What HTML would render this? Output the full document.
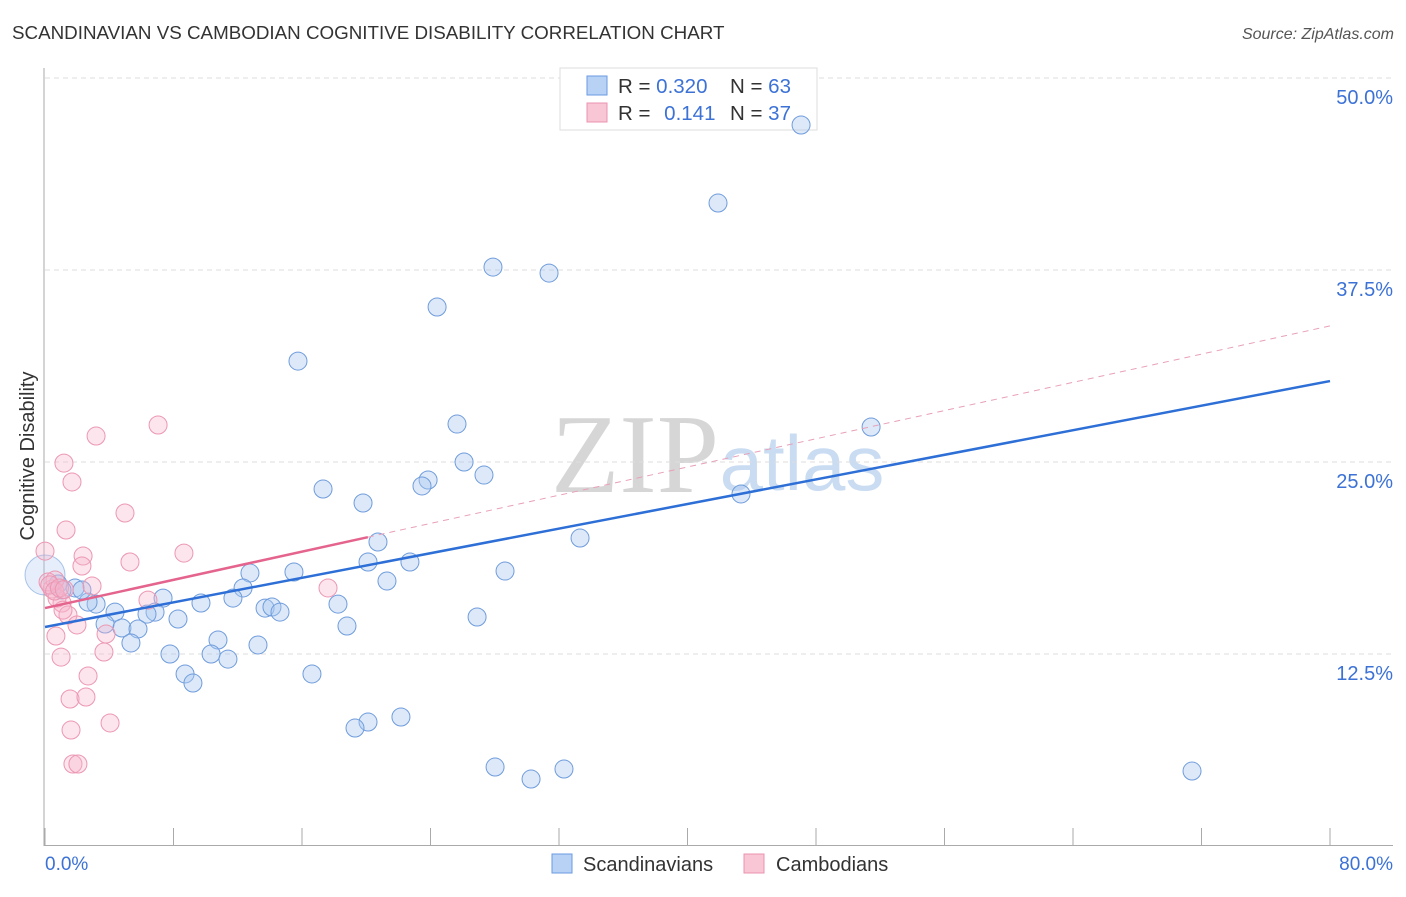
<!DOCTYPE html>
<html><head><meta charset="utf-8"><style>
body{margin:0;background:#fff;font-family:"Liberation Sans",sans-serif;}
svg text{font-family:"Liberation Sans",sans-serif;}
</style></head><body>
<svg id="chart" width="1406" height="892" xmlns="http://www.w3.org/2000/svg">
<text x="12" y="39" font-size="18.8" fill="#333">SCANDINAVIAN VS CAMBODIAN COGNITIVE DISABILITY CORRELATION CHART</text>
<text x="1394" y="39" font-size="16" fill="#555" font-style="italic" text-anchor="end">Source: ZipAtlas.com</text>
<text transform="translate(34,456) rotate(-90)" font-size="20" fill="#333" text-anchor="middle">Cognitive Disability</text>
<g>
<text x="635" y="492" font-size="112" fill="#d6d6d6" font-family="Liberation Serif" text-anchor="middle" style="font-family:'Liberation Serif',serif">ZIP</text>
<text x="802" y="490" font-size="78" fill="#c9dcf2" text-anchor="middle">atlas</text>
</g>
<g id="grid"></g>
<g id="axes"></g>
<g>
<rect x="560" y="68" width="257" height="62" fill="#fff" stroke="#ddd"/>
<rect x="587" y="76" width="20" height="19" fill="#b8d2f6" stroke="#6a9ae0"/>
<rect x="587" y="103" width="20" height="19" fill="#f9c6d5" stroke="#ec93b0"/>
<text x="618" y="93" font-size="20.5" fill="#333">R = <tspan fill="#3c72d6">0.320</tspan></text>
<text x="730" y="93" font-size="20.5" fill="#333">N = <tspan fill="#3c72d6">63</tspan></text>
<text x="618" y="120" font-size="20.5" fill="#333">R = <tspan fill="#3c72d6" dx="8">0.141</tspan></text>
<text x="730" y="120" font-size="20.5" fill="#333">N = <tspan fill="#3c72d6">37</tspan></text>
</g>
<g id="marks"></g>
<g>
<rect x="552" y="854" width="20" height="19" fill="#b8d2f6" stroke="#6a9ae0"/>
<text x="583" y="871" font-size="20" fill="#333">Scandinavians</text>
<rect x="744" y="854" width="20" height="19" fill="#f9c6d5" stroke="#ec93b0"/>
<text x="776" y="871" font-size="20" fill="#333">Cambodians</text>
</g>
</svg>
<script>
const yTicks=[12.5,25,37.5,50];
const yTickLabels=["12.5%","25.0%","37.5%","50.0%"];
const xTickCount=10;
const xLabels=["0.0%","80.0%"];
const blueX=[47.07,41.90,27.89,31.38,24.41,15.75,51.43,25.65,26.09,27.33,23.85,23.47,17.31,19.80,43.33,20.73,33.31,20.11,22.72,12.76,28.64,15.50,21.29,12.33,11.70,7.35,9.71,18.24,13.70,14.13,14.63,6.85,6.35,4.36,3.18,2.68,8.28,26.90,3.74,4.79,5.79,18.80,10.77,5.35,13.26,7.78,10.34,11.39,8.72,9.21,16.62,20.11,19.30,22.16,28.02,30.26,32.31,71.41,1.87,2.30,0.81,1.06,0];
const blueY=[46.94,41.86,37.69,37.30,35.09,31.57,27.28,27.47,25.0,24.15,23.83,23.44,23.24,22.33,22.92,19.79,20.05,18.49,18.49,17.77,17.90,17.84,17.25,16.80,16.14,16.14,15.82,15.75,15.49,15.56,15.23,15.23,15.10,15.23,15.75,15.88,14.78,14.91,14.45,14.19,14.13,14.32,13.41,13.22,13.09,12.50,12.50,12.17,11.20,10.61,11.20,8.07,7.68,8.40,5.14,4.36,5.01,4.88,16.80,16.67,17.06,16.67,17.64];
const pinkX=[7.04,3.18,1.18,1.68,4.98,1.31,0,2.37,8.65,5.29,2.30,2.93,17.62,6.41,1.06,0.44,0.62,0.19,0.75,1.43,1.12,1.99,3.80,0.68,3.67,1.00,2.68,1.56,2.55,4.05,1.62,1.74,2.05,0.3,0.6,0.9,1.2];
const pinkY=[27.41,26.69,24.93,23.70,21.68,20.57,19.20,18.88,19.07,18.49,18.23,16.93,16.80,16.01,15.82,16.73,17.32,17.19,16.14,15.04,15.36,14.39,13.80,13.67,12.63,12.30,11.07,9.57,9.70,8.01,7.55,5.34,5.34,17.0,16.6,16.8,16.7];
const blueTrend=[14.26,30.27];
const pinkTrend=[15.49,33.86];
const pinkSolidEnd=20.1;

const X=v=>45+v/80*1285, Y=v=>846-v/12.5*192;
const NS="http://www.w3.org/2000/svg";
function mk(tag,attrs,parent){const e=document.createElementNS(NS,tag);for(const k in attrs)e.setAttribute(k,attrs[k]);parent.appendChild(e);return e;}
const grid=document.getElementById('grid'),axes=document.getElementById('axes'),marks=document.getElementById('marks');
yTicks.forEach((t,i)=>{
 const l=mk('line',{x1:45,x2:1393,y1:Y(t),y2:Y(t),stroke:'#ddd','stroke-dasharray':'5,4'},grid);
 
 
 const tx=mk('text',{x:1393,y:Y(t)+26,'font-size':20,fill:'#3c72d6','text-anchor':'end'},grid);
 tx.textContent=yTickLabels[i];
 
 
});
const ya=mk('line',{x1:44,x2:44,y1:68,y2:846,stroke:'#aaa'},axes);


const xa=mk('line',{x1:44,x2:1393,y1:845.5,y2:845.5,stroke:'#aaa'},axes);


for(let i=0;i<=xTickCount;i++){
 const t=mk('line',{x1:X(i*80/xTickCount),x2:X(i*80/xTickCount),y1:828,y2:846,stroke:'#aaa'},axes);
 
 
}
const xl0=mk('text',{x:45,y:870,'font-size':19,fill:'#3c72d6'},axes);xl0.textContent=xLabels[0];


const xl1=mk('text',{x:1393,y:870,'font-size':19,fill:'#3c72d6','text-anchor':'end'},axes);xl1.textContent=xLabels[1];



blueX.forEach((x,i)=>{
 const big=(x===0);
 const c=mk('circle',{cx:X(x),cy:Y(blueY[i]),r:big?20:9,fill:big?'rgba(170,200,240,0.3)':'rgba(170,200,240,0.4)',stroke:big?'rgba(91,143,216,0.5)':'#6f9cdc','stroke-width':1},marks);
 
 
});
pinkX.forEach((x,i)=>{
 const c=mk('circle',{cx:X(x),cy:Y(pinkY[i]),r:9,fill:'rgba(246,180,202,0.35)',stroke:'#ec97b2','stroke-width':1},marks);
 
 
});
const pt=v=>pinkTrend[0]+(pinkTrend[1]-pinkTrend[0])*v/80;
const pd=mk('line',{x1:X(pinkSolidEnd),y1:Y(pt(pinkSolidEnd)),x2:X(80),y2:Y(pinkTrend[1]),stroke:'#e8a0b8','stroke-dasharray':'6,5','stroke-width':1},marks);


const bl=mk('line',{x1:X(0),y1:Y(blueTrend[0]),x2:X(80),y2:Y(blueTrend[1]),stroke:'#2d6fd6','stroke-width':2.5},marks);


const pl=mk('line',{x1:X(0),y1:Y(pinkTrend[0]),x2:X(pinkSolidEnd),y2:Y(pt(pinkSolidEnd)),stroke:'#e4648e','stroke-width':2.5},marks);


</script>
</body></html>
